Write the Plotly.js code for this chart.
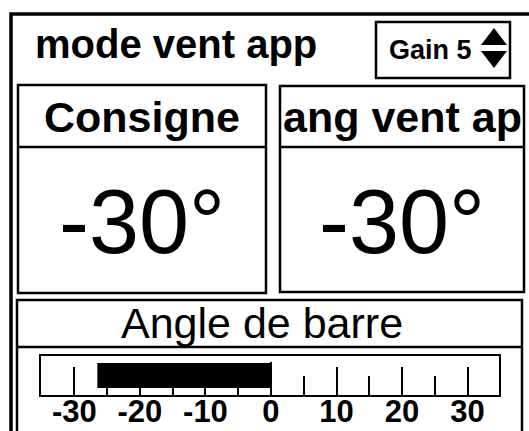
<!DOCTYPE html>
<html>
<head>
<meta charset="utf-8">
<script src="https://cdn.plot.ly/plotly-3.0.1.min.js"></script>
<style>html,body{margin:0;padding:0;background:#fff;}#chart{width:529px;height:431px;}</style>
</head>
<body>
<div id="chart"></div>
<script>
// ---- data ----
const modeLabel = "mode vent app";
const gainLabel = "Gain";
const gainValue = 5;
const panelTitles = ["Consigne", "ang vent ap"];
const panelValues = [-30, -30];
const gaugeTitle = "Angle de barre";
const barreValue = [-26.5];
const majorTicks = [-30, -20, -10, 0, 10, 20, 30];
const majorTickText = ["-30", "-20", "-10", "0", "10", "20", "30"];
const minorTicks = [-25, -15, -5, 5, 15, 25];

// ---- layout helpers (pixel -> paper) ----
const W = 529, H = 431;
const px = x => x / W, py = y => 1 - y / H;
const K = 'black';
const FONT = 'Liberation Sans, Arial, sans-serif';
function rect(x0, y0, x1, y1, w) {
  return {type:'rect', xref:'paper', yref:'paper', x0:px(x0), x1:px(x1), y0:py(y1), y1:py(y0),
          line:{color:K, width:w}, layer:'above'};
}
function hline(x0, x1, y, w) {
  return {type:'line', xref:'paper', yref:'paper', x0:px(x0), x1:px(x1), y0:py(y), y1:py(y),
          line:{color:K, width:w}, layer:'above'};
}
function path(pts) {
  const d = pts.map((p, i) => (i ? 'L' : 'M') + px(p[0]) + ',' + py(p[1])).join(' ') + ' Z';
  return {type:'path', xref:'paper', yref:'paper', path:d, fillcolor:K, line:{color:K, width:0}};
}
function ann(text, x, y, size, bold) {
  return {xref:'paper', yref:'paper', x:px(x), y:py(y), xanchor:'center', yanchor:'middle',
          text: bold ? '<b>' + text + '</b>' : text, showarrow:false,
          font:{family:FONT, size:size, color:K}};
}

const shapes = [
  rect(11, 14, 560, 460, 3.5),          // outer frame
  rect(376, 22, 510, 78, 2.5),          // gain box
  path([[481,45],[494,28],[507,45]]),   // up arrow
  path([[481,51],[507,51],[494,68]]),   // down arrow
  rect(18, 85, 266, 293, 2.5), hline(18, 266, 147, 2.5),
  rect(280, 86, 524, 292, 2.5), hline(280, 524, 147, 2.5),
  rect(17, 300, 522, 460, 2.5), hline(17, 522, 347, 2.5),
  // zero marker of the gauge (data coords)
  {type:'line', xref:'x', yref:'y', x0:0, x1:0, y0:0, y1:0.85, line:{color:K, width:2}}
];

const annotations = [
  Object.assign(ann(modeLabel, 33, 44, 40, true), {xanchor:'left'}),
  ann(gainLabel + ' ' + gainValue, 430, 50, 27, true),
  ann(panelTitles[0], 142, 117, 43, true),
  ann(panelTitles[1], 402, 117, 43, true),
  ann(panelValues[0] + '°', 142, 222, 90, false),
  ann(panelValues[1] + '°', 402, 222, 90, false),
  ann(gaugeTitle, 262, 323, 43, false)
];

const traces = [{
  type:'bar', orientation:'h', x:barreValue, y:[0.5], base:0, width:[0.64],
  marker:{color:K, line:{width:0}}, hoverinfo:'skip'
}];

const range = [-35.1, 34.8];
const layout = {
  width:W, height:H, margin:{l:0, r:0, t:0, b:0}, paper_bgcolor:'#fff', plot_bgcolor:'rgba(0,0,0,0)',
  showlegend:false,
  xaxis:{domain:[px(41), px(499)], range:range, fixedrange:true,
         showline:true, mirror:true, linecolor:K, linewidth:2, showgrid:false, zeroline:false,
         tickmode:'array', tickvals:majorTicks, ticks:'inside', ticklen:28, tickwidth:2, tickcolor:K,
         minor:{tickmode:'array', tickvals:minorTicks, ticks:'inside', ticklen:19, tickwidth:2, tickcolor:K, showgrid:false},
         showticklabels:false},
  // label-only axis sharing the gauge scale
  xaxis2:{overlaying:'x', matches:'x', anchor:'free', position:py(390), domain:[px(41), px(499)], range:range,
          fixedrange:true, showline:false, showgrid:false, zeroline:false, ticks:'',
          tickmode:'array', tickvals:majorTicks, ticktext:majorTickText,
          tickfont:{family:FONT, size:31, color:K, weight:'bold'}},
  yaxis:{domain:[py(395), py(356)], range:[0, 1], fixedrange:true, showline:true, mirror:true,
         linecolor:K, linewidth:2, showgrid:false, zeroline:false, showticklabels:false, ticks:''},
  shapes:shapes, annotations:annotations
};

traces.push({type:'scatter', x:[range[0]], y:[0], xaxis:'x2', yaxis:'y', mode:'markers',
             marker:{opacity:0}, hoverinfo:'skip'});

Plotly.newPlot('chart', traces, layout, {staticPlot:true, displayModeBar:false});
</script>
</body>
</html>
